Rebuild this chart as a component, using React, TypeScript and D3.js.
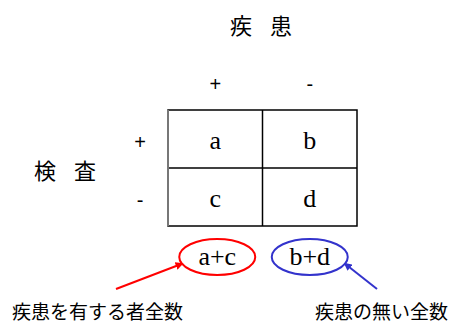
import React from "react";
import * as d3 from "d3";

const width = 450;
const height = 325;

// 2x2 table contents
const diseaseLabels = ["+", "-"]; // columns
const testLabels = ["+", "-"]; // rows
const cells = [
  ["a", "b"],
  ["c", "d"],
];
const columnTotals = ["a+c", "b+d"];
const totalColors = ["#ff0000", "#3333cc"];
const totalNotes = ["疾患を有する者全数", "疾患の無い全数"];

const titleTop = "疾患";
const titleLeft = "検査";

const jp = "'Noto Sans CJK JP', 'Noto Sans', sans-serif";
const sans = "'Liberation Sans', Arial, sans-serif";
const serif = "'Liberation Serif', 'Times New Roman', serif";

const x = d3.scaleBand<string>().domain(diseaseLabels).range([168, 357]);
const y = d3.scaleBand<string>().domain(testLabels).range([110, 226]);

const ellipse = { cy: 257, rx: 38, ry: 18 };

// arrow tail position and the angle (deg) where it hits the ellipse
const arrows = [
  { tailX: 116, tailY: 289, angle: 158 },
  { tailX: 377, tailY: 289, angle: 22 },
];

const App = () => {
  const cx = (c: string) => (x(c) as number) + x.bandwidth() / 2;
  const cy = (r: string) => (y(r) as number) + y.bandwidth() / 2;

  return (
    <svg
      width={width}
      height={height}
      style={{ position: "absolute", left: 0, top: 0, background: "#fff" }}
    >
      <defs>
        {totalColors.map((c, i) => (
          <marker
            key={i}
            id={`arrow${i}`}
            viewBox="0 0 10 10"
            refX={8}
            refY={5}
            markerWidth={4}
            markerHeight={4}
            orient="auto"
          >
            <path d="M0,0L10,5L0,10z" fill={c} />
          </marker>
        ))}
      </defs>

      <text x={230} y={34} fontFamily={jp} fontSize={22} letterSpacing={18}>
        {titleTop}
      </text>
      <text x={34} y={179} fontFamily={jp} fontSize={22} letterSpacing={18}>
        {titleLeft}
      </text>

      {diseaseLabels.map((d) => (
        <text key={d} x={cx(d)} y={91} textAnchor="middle" fontFamily={sans} fontSize={20}>
          {d}
        </text>
      ))}
      {testLabels.map((t) => (
        <text key={t} x={140} y={cy(t) + 10} textAnchor="middle" fontFamily={sans} fontSize={20}>
          {t}
        </text>
      ))}

      {/* grid */}
      <g stroke="#000" strokeWidth={1.5} fill="none">
        <rect x={x.range()[0]} y={y.range()[0]} width={x.range()[1] - x.range()[0]} height={y.range()[1] - y.range()[0]} />
        <line x1={x("-")} x2={x("-")} y1={y.range()[0]} y2={y.range()[1]} />
        <line x1={x.range()[0]} x2={x.range()[1]} y1={y("-")} y2={y("-")} />
      </g>
      <line
        x1={x.range()[0]}
        x2={x.range()[0]}
        y1={y.range()[0]}
        y2={y.range()[1]}
        stroke="#777"
        strokeWidth={2}
      />

      {testLabels.map((t, r) =>
        diseaseLabels.map((d, c) => (
          <text key={`${r}${c}`} x={cx(d)} y={cy(t) + 10} textAnchor="middle" fontFamily={serif} fontSize={26}>
            {cells[r][c]}
          </text>
        ))
      )}

      {columnTotals.map((s, i) => {
        const ex = cx(diseaseLabels[i]) + (i === 0 ? 2 : 0);
        const a = arrows[i];
        const rad = (a.angle * Math.PI) / 180;
        const hx = ex + ellipse.rx * Math.cos(rad);
        const hy = ellipse.cy + ellipse.ry * Math.sin(rad);
        return (
          <g key={s}>
            <ellipse cx={ex} cy={ellipse.cy} rx={ellipse.rx} ry={ellipse.ry} fill="none" stroke={totalColors[i]} strokeWidth={2} />
            <text x={ex} y={ellipse.cy + 8} textAnchor="middle" fontFamily={serif} fontSize={26}>
              {s}
            </text>
            <line x1={a.tailX} y1={a.tailY} x2={hx} y2={hy} stroke={totalColors[i]} strokeWidth={2} markerEnd={`url(#arrow${i})`} />
          </g>
        );
      })}

      <text x={12} y={319} fontFamily={jp} fontSize={19}>
        {totalNotes[0]}
      </text>
      <text x={448} y={319} textAnchor="end" fontFamily={jp} fontSize={19}>
        {totalNotes[1]}
      </text>
    </svg>
  );
};

export default App;
